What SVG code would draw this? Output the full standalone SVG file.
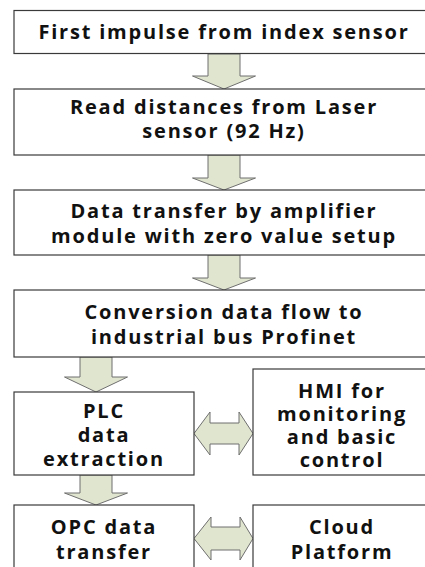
<svg xmlns="http://www.w3.org/2000/svg" width="425" height="567" viewBox="0 0 425 567">
<style>
.box{fill:#fff;stroke:#3a3a3a;stroke-width:1.2}
.arr{fill:#dfe5cf;stroke:#6f6f6f;stroke-width:1}
text{font-family:"Open Sans","Liberation Sans",sans-serif;font-weight:bold;font-size:20px;letter-spacing:1.8px;fill:#111;text-anchor:middle}
</style>
<rect width="425" height="567" fill="#fff"/>
<g id="connectors">
<path class="arr" d="M208,54 L240,54 L240,76 L255.5,76 L224,89 L192.5,76 L208,76 Z"/>
<path class="arr" d="M208,155 L240,155 L240,178 L255.5,178 L224,190 L192.5,178 L208,178 Z"/>
<path class="arr" d="M208,255 L240,255 L240,278 L255.5,278 L224,290 L192.5,278 L208,278 Z"/>
<path class="arr" d="M80,357 L112,357 L112,377 L127.5,377 L96,392 L64.5,377 L80,377 Z"/>
<path class="arr" d="M80,475 L112,475 L112,493 L127.5,493 L96,505 L64.5,493 L80,493 Z"/>
<path class="arr" d="M194,433.5 L210,412 L210,423 L239,423 L239,412 L253,433.5 L239,455 L239,444 L210,444 L210,455 Z"/>
<path class="arr" d="M194,538.5 L211,517 L211,527 L240,527 L240,517 L253,538.5 L240,560 L240,550 L211,550 L211,560 Z"/>
</g>
<g id="n1"><rect class="box" x="14" y="10.5" width="430" height="43"/><text x="224" y="38.5">First impulse from index sensor</text></g>
<g id="n2"><rect class="box" x="14" y="89" width="430" height="66"/><text x="224" y="113.5">Read distances from Laser</text><text x="224" y="137.5">sensor (92 Hz)</text></g>
<g id="n3"><rect class="box" x="14" y="190" width="430" height="65"/><text x="224" y="217.5">Data transfer by amplifier</text><text x="224" y="242.5">module with zero value setup</text></g>
<g id="n4"><rect class="box" x="14" y="290" width="430" height="67"/><text x="224" y="318.5">Conversion data flow to</text><text x="224" y="343.5">industrial bus Profinet</text></g>
<g id="n5"><rect class="box" x="14" y="392" width="180" height="83"/><text x="104" y="417.5">PLC</text><text x="104" y="441.5">data</text><text x="104" y="465.5">extraction</text></g>
<g id="n6"><rect class="box" x="253" y="369" width="191" height="106"/><text x="342" y="398">HMI for</text><text x="342" y="421">monitoring</text><text x="342" y="444">and basic</text><text x="342" y="467">control</text></g>
<g id="n7"><rect class="box" x="14" y="505" width="180" height="80"/><text x="104" y="533.5">OPC data</text><text x="104" y="558.5">transfer</text></g>
<g id="n8"><rect class="box" x="253" y="505" width="191" height="80"/><text x="342" y="533.5">Cloud</text><text x="342" y="558.5">Platform</text></g>
</svg>
